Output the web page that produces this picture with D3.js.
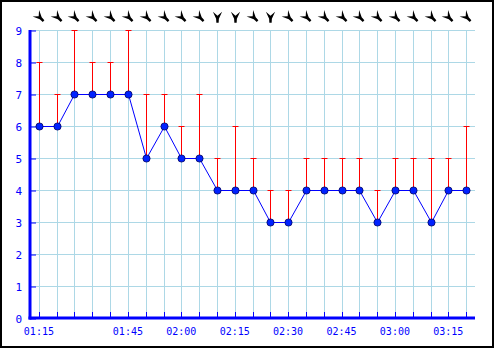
<!DOCTYPE html>
<html>
<head>
<meta charset="utf-8">
<script src="https://cdn.jsdelivr.net/npm/d3@7"></script>
<style>
  body { margin: 0; background: #fff; }
  svg { display: block; }
  text { font-family: "DejaVu Sans Mono", monospace; font-size: 10px; fill: #0000ff; }
  .ylab { font-size: 11px; }
</style>
</head>
<body>
<div id="vis"></div>
<script>
// observation times (5 min steps, first gap a bit longer)
var times = ["01:15","01:21","01:27","01:33","01:39","01:45","01:50","01:55","02:00","02:05",
             "02:10","02:15","02:20","02:25","02:30","02:35","02:40","02:45","02:50","02:55",
             "03:00","03:05","03:10","03:15","03:20"];
// mean wind speed
var speed = [6,6,7,7,7,7,5,6,5,5,4,4,4,3,3,4,4,4,4,3,4,4,3,4,4];
// gusts
var gust  = [8,7,9,8,8,9,7,7,6,7,5,6,5,4,4,5,5,5,5,4,5,5,5,5,6];
// wind direction per observation
var dirs  = ["NW","NW","NW","NW","NW","NW","NW","NW","NW","NW","N","N","NW","N","NW","NW",
             "NW","NW","NW","NW","NW","NW","NW","NW","NW"];
var yTicks = [0,1,2,3,4,5,6,7,8,9];
var xLabels = ["01:15","01:45","02:00","02:15","02:30","02:45","03:00","03:15"];

var width = 495, height = 348;
var plotLeft = 30, plotRight = 475, plotTop = 30, plotBottom = 318;

var svg = d3.select("#vis").append("svg")
  .attr("width", width)
  .attr("height", height);

// frame
svg.append("rect")
  .attr("x", 1).attr("y", 1)
  .attr("width", 492).attr("height", 346)
  .attr("fill", "none").attr("stroke", "#000").attr("stroke-width", 2);

var x = d3.scalePoint().domain(times).range([plotLeft, plotRight]).padding(0.5);
var y = d3.scaleLinear().domain([0, 9]).range([plotBottom, plotTop]);

function px(t) { return Math.round(x(t)) + 0.5; }

// grid
svg.append("g").selectAll("line")
  .data(yTicks.filter(function(d) { return d > 0; }))
  .enter().append("line")
    .attr("x1", plotLeft).attr("x2", plotRight)
    .attr("y1", function(d) { return y(d) + 0.5; })
    .attr("y2", function(d) { return y(d) + 0.5; })
    .attr("stroke", "#add8e6");

svg.append("g").selectAll("line")
  .data(times)
  .enter().append("line")
    .attr("x1", px).attr("x2", px)
    .attr("y1", plotTop).attr("y2", plotBottom)
    .attr("stroke", "#add8e6");

// y axis ticks + labels
var yAxis = svg.append("g")
  .attr("transform", "translate(" + plotLeft + ",0.5)")
  .call(d3.axisRight(y).tickValues(yTicks).tickSize(6).tickFormat(""));
yAxis.select(".domain").remove();
yAxis.selectAll("line").attr("stroke", "#0000ff");

svg.append("g").selectAll("text")
  .data(yTicks)
  .enter().append("text")
    .attr("class", "ylab")
    .attr("x", 22)
    .attr("y", function(d) { return y(d) + 4.5; })
    .attr("text-anchor", "end")
    .text(function(d) { return d; });

// x axis ticks + labels
var xAxis = svg.append("g")
  .attr("transform", "translate(0," + plotBottom + ")")
  .call(d3.axisTop(x).tickSize(6).tickFormat(""));
xAxis.select(".domain").remove();
xAxis.selectAll(".tick").attr("transform", function(d) { return "translate(" + px(d) + ",0)"; });
xAxis.selectAll("line").attr("stroke", "#0000ff");

svg.append("g").selectAll("text")
  .data(xLabels)
  .enter().append("text")
    .attr("x", function(d) { return x(d); })
    .attr("y", 334.5)
    .attr("text-anchor", "middle")
    .text(function(d) { return d; });

// axis lines
svg.append("line").attr("x1", plotLeft).attr("x2", plotLeft).attr("y1", plotTop).attr("y2", plotBottom + 1.5)
  .attr("stroke", "#0000ff").attr("stroke-width", 3);
svg.append("line").attr("x1", plotLeft - 1.5).attr("x2", plotRight).attr("y1", plotBottom).attr("y2", plotBottom)
  .attr("stroke", "#0000ff").attr("stroke-width", 3);

// gust bars
var gusts = svg.append("g");
times.forEach(function(t, i) {
  var cx = px(t);
  gusts.append("line")
    .attr("x1", cx).attr("x2", cx)
    .attr("y1", y(speed[i])).attr("y2", y(gust[i]))
    .attr("stroke", "#ff0000");
  gusts.append("line")
    .attr("x1", cx - 3).attr("x2", cx + 3)
    .attr("y1", y(gust[i]) + 0.5).attr("y2", y(gust[i]) + 0.5)
    .attr("stroke", "#ff0000");
});

// speed line
var line = d3.line()
  .x(function(d, i) { return px(times[i]); })
  .y(function(d) { return y(d) + 0.5; });
svg.append("path")
  .datum(speed)
  .attr("d", line)
  .attr("fill", "none")
  .attr("stroke", "#0000ff");

svg.append("g").selectAll("circle")
  .data(speed)
  .enter().append("circle")
    .attr("cx", function(d, i) { return px(times[i]); })
    .attr("cy", function(d) { return y(d) + 0.5; })
    .attr("r", 3.6)
    .attr("fill", "#0022ff")
    .attr("stroke", "#000060")
    .attr("stroke-width", 0.8);

// wind direction arrows
var rot = { "N": 0, "NW": -45 };
svg.append("g").selectAll("path")
  .data(dirs)
  .enter().append("path")
    .attr("d", "M-4,-4.5 L0,-1 L4,-4.5 L1.2,1.5 L1,5 L-1,5 L-1.2,1.5 Z")
    .attr("transform", function(d, i) {
      return "translate(" + px(times[i]) + ",17) rotate(" + rot[d] + ") scale(1.15)";
    })
    .attr("fill", "#000");
</script>
</body>
</html>
